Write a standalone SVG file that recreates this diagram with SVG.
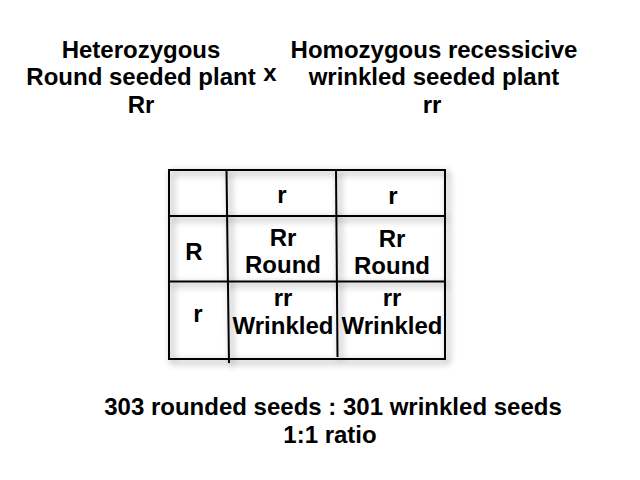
<svg xmlns="http://www.w3.org/2000/svg" width="640" height="480" viewBox="0 0 640 480">
  <defs>
    <filter id="soft" x="-10%" y="-10%" width="120%" height="120%">
      <feGaussianBlur in="SourceAlpha" stdDeviation="3.5" result="b"/>
      <feOffset in="b" dx="3" dy="3" result="o"/>
      <feFlood flood-color="#000" flood-opacity="0.5"/>
      <feComposite in2="o" operator="in" result="s"/>
      <feMerge><feMergeNode in="s"/><feMergeNode in="SourceGraphic"/></feMerge>
    </filter>
  </defs>
  <style>
    text { font-family: "Liberation Sans", Arial, Helvetica, sans-serif; font-weight: bold; font-size: 24px; fill: #000; text-anchor: middle; }
    .ln { stroke: #000; stroke-width: 2; fill: none; }
  </style>
  <rect width="640" height="480" fill="#fff"/>

  <g id="parent1">
    <text x="141" y="58">Heterozygous</text>
    <text x="141" y="85">Round seeded plant</text>
    <text x="141" y="113">Rr</text>
  </g>
  <g id="cross">
    <text x="270" y="81">x</text>
  </g>
  <g id="parent2">
    <text x="434" y="58">Homozygous recessicive</text>
    <text x="434" y="85">wrinkled seeded plant</text>
    <text x="432" y="113">rr</text>
  </g>

  <g id="grid" filter="url(#soft)">
    <rect class="ln" x="169" y="170" width="276" height="189"/>
    <line class="ln" x1="169" y1="216" x2="445" y2="216"/>
    <line class="ln" x1="169" y1="281.5" x2="445" y2="281.5"/>
    <line class="ln" x1="226.5" y1="170" x2="229" y2="363"/>
    <line class="ln" x1="336" y1="170" x2="337.5" y2="357"/>
  </g>

  <g id="h1"><text x="282" y="203">r</text></g>
  <g id="h2"><text x="393" y="204">r</text></g>
  <g id="rowR"><text x="194" y="260">R</text></g>
  <g id="rowr"><text x="198" y="322">r</text></g>
  <g id="c11"><text x="283" y="246">Rr</text><text x="283" y="273">Round</text></g>
  <g id="c12"><text x="392" y="247">Rr</text><text x="392" y="274">Round</text></g>
  <g id="c21"><text x="283" y="306">rr</text><text x="283" y="334">Wrinkled</text></g>
  <g id="c22"><text x="392" y="306">rr</text><text x="392" y="334">Wrinkled</text></g>

  <g id="result">
    <text x="333" y="415">303 rounded seeds : 301 wrinkled seeds</text>
    <text x="330" y="443">1:1 ratio</text>
  </g>
</svg>
